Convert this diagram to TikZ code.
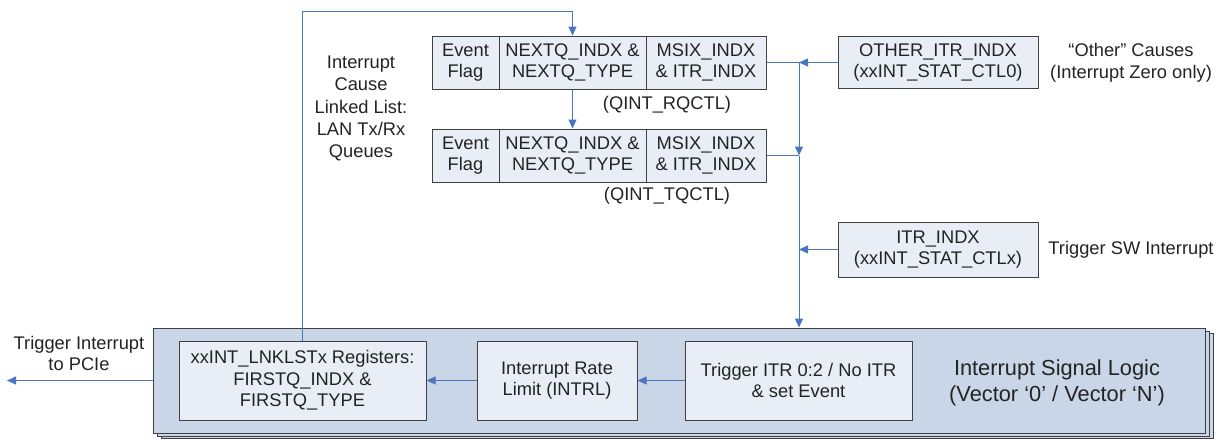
\documentclass[tikz,border=0pt]{standalone}
\usepackage{fontspec}
\setmainfont{Liberation Sans}
\usetikzlibrary{arrows.meta,calc}
\definecolor{lineblue}{RGB}{74,118,192}
\definecolor{boxfill}{RGB}{233,238,246}
\definecolor{bigfill}{RGB}{200,214,231}
\definecolor{edgegray}{RGB}{64,64,64}
\definecolor{txt}{RGB}{35,35,35}
\begin{document}
\begin{tikzpicture}[x=1pt,y=-1pt,
  every node/.style={text=txt, font=\fontsize{18.3}{21.6}\selectfont, inner sep=0pt},
  regbox/.style={draw=edgegray, fill=boxfill, line width=1pt, minimum height=53pt, align=center},
  bigbox/.style={draw=edgegray, fill=bigfill, line width=1pt},
  conn/.style={draw=lineblue, line width=1pt},
  arr/.style={conn, -{Triangle[length=9pt,width=8pt]}},
  lbl/.style={align=center}]
\useasboundingbox (0,0) rectangle (1225,439);

% stacked signal logic boxes
\draw[bigbox] (161,333.5) rectangle (1213,438.3);
\draw[bigbox] (157,331) rectangle (1209,436);
\node[bigbox, minimum width=1052pt, minimum height=105pt] (sig) at (679,380.5) {};
\node[lbl, font=\fontsize{21.8}{25.8}\selectfont] (siglbl) at (1057,383) {Interrupt Signal Logic\\(Vector ‘0’ / Vector ‘N’)};

% inner boxes
\node[regbox, minimum width=247pt, minimum height=79pt] (lnk) at (302.5,380.5) {xxINT\_LNKLSTx Registers:\\FIRSTQ\_INDX \&\\FIRSTQ\_TYPE};
\node[regbox, minimum width=160pt, minimum height=79pt] (intrl) at (557,380.5) {Interrupt Rate\\Limit (INTRL)};
\node[regbox, minimum width=227pt, minimum height=79pt] (trig) at (798.5,380.5) {Trigger ITR 0:2 / No ITR\\\& set Event};

% top register boxes
\node[regbox, minimum width=67pt] (ev1) at (465.5,62.5) {Event\\Flag};
\node[regbox, minimum width=147pt] (nx1) at (572.5,62.5) {NEXTQ\_INDX \&\\NEXTQ\_TYPE};
\node[regbox, minimum width=120pt] (ms1) at (706,62.5) {MSIX\_INDX\\\& ITR\_INDX};
\node[regbox, minimum width=67pt] (ev2) at (465.5,155.5) {Event\\Flag};
\node[regbox, minimum width=147pt] (nx2) at (572.5,155.5) {NEXTQ\_INDX \&\\NEXTQ\_TYPE};
\node[regbox, minimum width=120pt] (ms2) at (706,155.5) {MSIX\_INDX\\\& ITR\_INDX};

\node[regbox, minimum width=200pt, minimum height=52pt] (other) at (938,62.5) {OTHER\_ITR\_INDX\\(xxINT\_STAT\_CTL0)};
\node[regbox, minimum width=200pt, minimum height=55pt] (itr) at (938,249.5) {ITR\_INDX\\(xxINT\_STAT\_CTLx)};

% labels
\node[lbl] (rqlbl) at (667,104.5) {(QINT\_RQCTL)};
\node[lbl] (tqlbl) at (667,196) {(QINT\_TQCTL)};
\node[lbl, font=\fontsize{18.3}{22.2}\selectfont] (cause) at (361,108.5) {Interrupt\\Cause\\Linked List:\\LAN Tx/Rx\\Queues};
\node[lbl] (othlbl) at (1131,63) {“Other” Causes\\(Interrupt Zero only)};
\node[lbl] (swlbl) at (1131,250) {Trigger SW Interrupt};
\node[lbl] (pcie) at (79,353.5) {Trigger Interrupt\\to PCIe};

% connectors
\coordinate (out) at (7,380.5);
\coordinate (fb1) at (302.5,11);
\coordinate (fb2) at (572.5,11);
\coordinate (j1) at (799,62.5);
\coordinate (j2) at (799,155.5);

\draw[arr] (trig.west) -- (intrl.east);
\draw[arr] (intrl.west) -- (lnk.east);
\draw[arr] (sig.west) -- (out);
\draw[arr] (lnk.north) -- (fb1) -- (fb2) -- (nx1.north);
\draw[arr] (nx1.south) -- (nx2.north);
\draw[arr] (ms1.east) -- (j1) -- (j2);
\draw[conn] (ms2.east) -- (j2);
\draw[arr] (other.west) -- (j1);
\draw[arr] (j2) -- (j2 |- sig.north);
\draw[arr] (itr.west) -- (itr.west -| j2);
\end{tikzpicture}
\end{document}
